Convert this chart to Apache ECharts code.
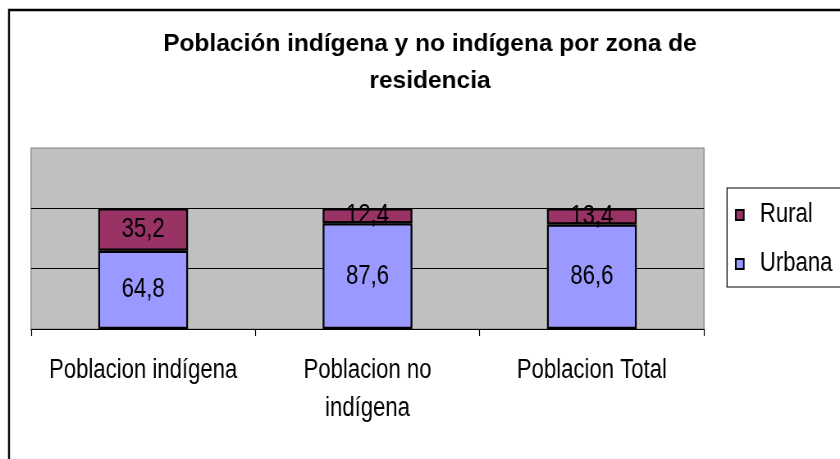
<!DOCTYPE html>
<html>
<head>
<meta charset="utf-8">
<script src="https://cdn.jsdelivr.net/npm/echarts@6/dist/echarts.min.js"></script>
<style>
html,body{margin:0;padding:0;background:#fff;overflow:hidden;}
#wrap{width:840px;height:459px;overflow:hidden;position:relative;}
#chart{width:1024px;height:459px;transform:scaleX(0.8203125);transform-origin:0 0;position:absolute;left:0;top:0;}
</style>
</head>
<body>
<div id="wrap"><div id="chart"></div></div>
<script>
var categories = ['Poblacion indígena', 'Poblacion no indígena', 'Poblacion Total'];
var urbana = [64.8, 87.6, 86.6];
var rural = [35.2, 12.4, 13.4];
var yTicks = [0, 50, 100, 150];
var titleText = 'Población indígena y no indígena por zona de\nresidencia';

var S = 0.8203125; // horizontal condensing of the chart text (Excel-like narrow look)
var FONT = '"Liberation Sans", Arial, sans-serif';
var chart = echarts.init(document.getElementById('chart'));

function fmt(p) { return String(p.value).replace('.', ','); }
function wrap(s) {
  var words = s.split(' '), lines = [], cur = '';
  words.forEach(function (w) {
    var t = cur ? cur + ' ' + w : w;
    if (t.length > 18 && cur) { lines.push(cur); cur = w; } else { cur = t; }
  });
  lines.push(cur);
  return lines.join('\n');
}

chart.setOption({
  backgroundColor: '#ffffff',
  animation: false,
  legend: {
    data: ['Rural', 'Urbana'],
    orient: 'vertical',
    left: 727 / S,
    top: 188,
    padding: [13.5, 40, 9.5, 9.7],
    itemWidth: 9.75,
    itemHeight: 10,
    itemGap: 22,
    borderColor: '#000',
    borderWidth: 1.2,
    backgroundColor: '#fff',
    icon: 'rect',
    textStyle: { fontFamily: FONT, fontSize: 27, lineHeight: 27, color: '#000', padding: [0, 0, 0, 14.5] }
  },
  graphic: [
    {
      type: 'rect',
      shape: { x: 9 / S, y: 10, width: 1100, height: 470 },
      style: { fill: 'none', stroke: '#000', lineWidth: 2.4 },
      silent: true,
      z: 100
    },
    {
      type: 'text',
      x: 430 / S,
      y: 26,
      scaleX: 1 / S,
      silent: true,
      style: {
        text: titleText,
        fontFamily: FONT, fontSize: 24.5, fontWeight: 'bold', fill: '#000',
        lineHeight: 37, align: 'center', verticalAlign: 'top'
      }
    }
  ],
  grid: {
    left: 31 / S, top: 148, right: 1024 - 704 / S, bottom: 130,
    show: true,
    backgroundColor: '#C0C0C0',
    borderColor: '#808080',
    borderWidth: 1.2
  },
  xAxis: {
    type: 'category',
    data: categories,
    axisLine: { show: true, lineStyle: { color: '#000', width: 1 } },
    axisTick: { show: true, length: 7, lineStyle: { color: '#000', width: 1.2 } },
    axisLabel: {
      fontFamily: FONT, fontSize: 27, color: '#000', margin: 23, lineHeight: 38,
      interval: 0, formatter: wrap
    }
  },
  yAxis: {
    type: 'value',
    min: yTicks[0],
    max: yTicks[yTicks.length - 1],
    interval: yTicks[1] - yTicks[0],
    axisLine: { show: false },
    axisTick: { show: false },
    axisLabel: { show: false },
    splitLine: { show: true, lineStyle: { color: ['rgba(0,0,0,0)', '#000', '#000', 'rgba(0,0,0,0)'], width: 1 } }
  },
  series: [
    {
      name: 'Urbana', type: 'bar', stack: 'total', data: urbana, barWidth: '40%',
      itemStyle: { color: '#9999FF', borderColor: '#000', borderWidth: 2.2 },
      label: { show: true, position: 'inside', formatter: fmt, fontFamily: FONT, fontSize: 27, color: '#000' }
    },
    {
      name: 'Rural', type: 'bar', stack: 'total', data: rural, barWidth: '40%',
      itemStyle: { color: '#993366', borderColor: '#000', borderWidth: 2.2 },
      label: { show: true, position: 'inside', formatter: fmt, fontFamily: FONT, fontSize: 27, color: '#000' }
    }
  ]
});
</script>
</body>
</html>
